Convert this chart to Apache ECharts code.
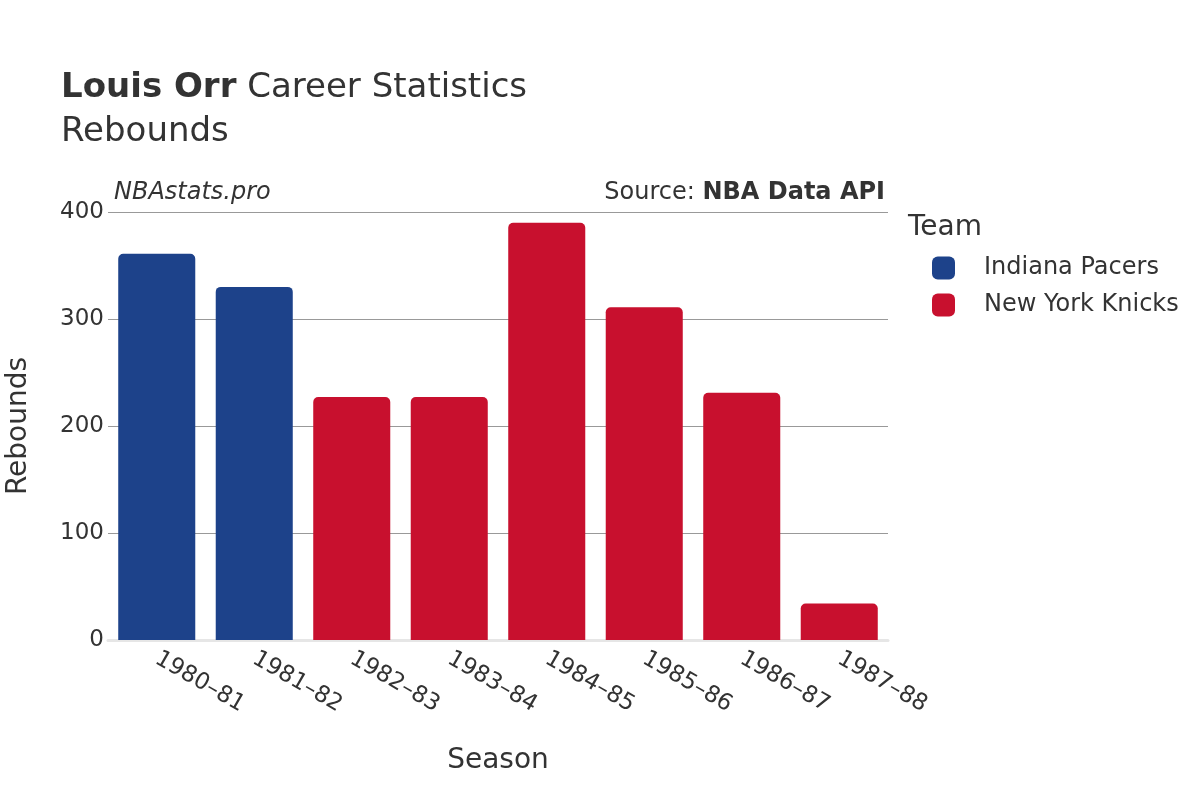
<!DOCTYPE html>
<html>
<head>
<meta charset="utf-8">
<script src="https://cdn.jsdelivr.net/npm/echarts@6/dist/echarts.min.js"></script>
<style>html,body{margin:0;padding:0;background:#fff}#c{width:1200px;height:800px}</style>
</head>
<body>
<div id="c"></div>
<script>
const seasons = ['1980–81','1981–82','1982–83','1983–84','1984–85','1985–86','1986–87','1987–88'];
const pacers = [361, 330, null, null, null, null, null, null];
const knicks = [null, null, 227, 227, 390, 311, 231, 34];
const yTicks = [0, 100, 200, 300, 400];

const FONT = 'DejaVu Sans';
const chart = echarts.init(document.getElementById('c'), null, {renderer: 'canvas'});
const barStyle = (color) => ({color: color, borderRadius: [5, 5, 0, 0]});
chart.setOption({
  animation: false,
  backgroundColor: '#fff',
  textStyle: {fontFamily: FONT},
  title: [
    {text: '{b|Louis Orr} Career Statistics', left: 56, top: 66,
     textStyle: {fontFamily: FONT, fontSize: 34, fontWeight: 'normal', color: '#333',
       rich: {b: {fontFamily: FONT, fontSize: 34, fontWeight: 'bold', color: '#333'}}}},
    {text: 'Rebounds', left: 56, top: 110,
     textStyle: {fontFamily: FONT, fontSize: 34, fontWeight: 'normal', color: '#333'}},
    {text: 'NBAstats.pro', left: 109, top: 176,
     textStyle: {fontFamily: FONT, fontSize: 24, fontStyle: 'italic', fontWeight: 'normal', color: '#333'}},
    {text: 'Source: {b|NBA Data API}', right: 310, top: 176,
     textStyle: {fontFamily: FONT, fontSize: 24, fontWeight: 'normal', color: '#333',
       rich: {b: {fontFamily: FONT, fontSize: 24, fontWeight: 'bold', color: '#333'}}}},
    {text: 'Team', left: 903, top: 209,
     textStyle: {fontFamily: FONT, fontSize: 28, fontWeight: 'normal', color: '#333'}}
  ],
  legend: {
    orient: 'vertical', left: 927, top: 251, itemWidth: 23, itemHeight: 23, itemGap: 13,
    icon: 'roundRect',
    textStyle: {fontFamily: FONT, fontSize: 24, color: '#333', padding: [0, 0, 0, 24]},
    data: ['Indiana Pacers', 'New York Knicks']
  },
  grid: {left: 108, right: 312, top: 212, bottom: 160, containLabel: false, outerBoundsMode: 'none'},
  xAxis: {
    type: 'category', data: seasons,
    name: 'Season', nameLocation: 'middle', nameGap: 107,
    nameTextStyle: {fontFamily: FONT, fontSize: 28, color: '#333'},
    axisLine: {show: true, lineStyle: {color: '#e6e6e6', width: 3}},
    axisTick: {show: false},
    axisLabel: {rotate: -30, fontFamily: FONT, fontSize: 23, color: '#333', margin: 17}
  },
  yAxis: {
    type: 'value', min: 0, max: 400, interval: 100,
    name: 'Rebounds', nameLocation: 'middle', nameGap: 75,
    nameTextStyle: {fontFamily: FONT, fontSize: 28, color: '#333'},
    axisLine: {show: false}, axisTick: {show: false},
    splitLine: {lineStyle: {color: '#999', width: 1}},
    axisLabel: {fontFamily: FONT, fontSize: 23, color: '#333', margin: 4,
      formatter: (v) => yTicks.includes(v) ? String(v) : ''}
  },
  series: [
    {name: 'Indiana Pacers', type: 'bar', stack: 'a', data: pacers, barWidth: '79%',
     itemStyle: barStyle('#1D428A')},
    {name: 'New York Knicks', type: 'bar', stack: 'a', data: knicks, barWidth: '79%',
     itemStyle: barStyle('#C8102E')}
  ]
});
</script>
</body>
</html>
